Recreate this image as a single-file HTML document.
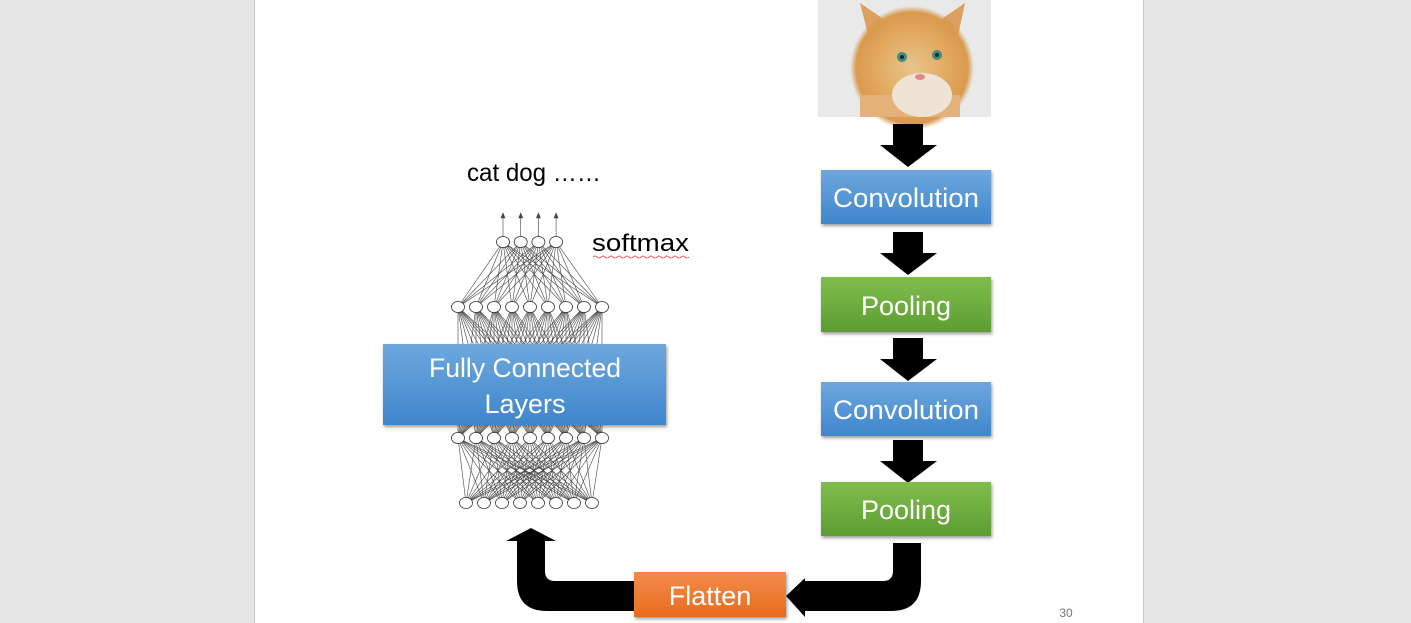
<!DOCTYPE html>
<html><head><meta charset="utf-8"><style>
html,body{margin:0;padding:0;width:1411px;height:623px;overflow:hidden;background:#e6e6e6;font-family:"Liberation Sans",sans-serif}
</style></head><body>
<svg id="s" width="1411" height="623" xmlns="http://www.w3.org/2000/svg" style="position:absolute;left:0;top:0">
<defs>
<linearGradient id="gb" x1="0" y1="0" x2="0" y2="1"><stop offset="0" stop-color="#6ea7dd"/><stop offset="1" stop-color="#3f86cc"/></linearGradient>
<linearGradient id="gg" x1="0" y1="0" x2="0" y2="1"><stop offset="0" stop-color="#80bd4c"/><stop offset="1" stop-color="#5c9d32"/></linearGradient>
<linearGradient id="go" x1="0" y1="0" x2="0" y2="1"><stop offset="0" stop-color="#f28c4c"/><stop offset="1" stop-color="#e86b1c"/></linearGradient>
<radialGradient id="cat" cx="0.5" cy="0.5" r="0.5"><stop offset="0" stop-color="#e8c48e"/><stop offset="0.6" stop-color="#e2a85e"/><stop offset="0.9" stop-color="#d9994e"/><stop offset="1" stop-color="#d9994e" stop-opacity="0"/></radialGradient>
<filter id="sh" x="-5%" y="-5%" width="112%" height="125%"><feDropShadow dx="1" dy="2" stdDeviation="1.5" flood-color="#000" flood-opacity="0.4"/></filter>
</defs>
<rect x="254" y="0" width="890" height="623" fill="#fff"/>
<line x1="254.5" y1="0" x2="254.5" y2="623" stroke="#c8c8c8"/>
<line x1="1143.5" y1="0" x2="1143.5" y2="623" stroke="#c8c8c8"/>
<!-- cat -->
<rect x="818" y="0" width="173" height="117" fill="#e9e9ea"/>
<polygon points="860,3 885,20 872,50" fill="#dca060"/>
<polygon points="965,3 940,20 955,50" fill="#dca060"/>
<ellipse cx="912" cy="68" rx="62" ry="62" fill="url(#cat)"/>
<rect x="860" y="95" width="100" height="22" fill="#e2b27a"/>
<ellipse cx="922" cy="95" rx="30" ry="22" fill="#efe3d6"/>
<circle cx="902" cy="57" r="5" fill="#3c8c84"/><circle cx="937" cy="55" r="5" fill="#3c8c84"/>
<circle cx="902" cy="57" r="2" fill="#222"/><circle cx="937" cy="55" r="2" fill="#222"/>
<ellipse cx="920" cy="77" rx="5" ry="3" fill="#e08a88"/>
<!-- down arrows -->
<g fill="#000">
<polygon points="893,124 923,124 923,145 937,145 908,167 880,145 893,145"/>
<polygon points="893,232 923,232 923,253 937,253 908,275 880,253 893,253"/>
<polygon points="893,338 923,338 923,359 937,359 908,381 880,359 893,359"/>
<polygon points="893,440 923,440 923,461 937,461 908,483 880,461 893,461"/>
<path d="M893,543 L921,543 L921,581 Q921,611 891,611 L805,611 L805,617 L786,596 L805,578 L805,581 L883,581 Q893,581 893,571 Z"/>
<path d="M634,581 L634,611 L547,611 Q517,611 517,581 L517,541 L506,541 L531,528 L556,541 L545,541 L545,571 Q545,581 555,581 Z"/>
</g>
<g filter="url(#sh)">
<rect x="821" y="170" width="170" height="54" fill="url(#gb)"/>
<rect x="821" y="277" width="170" height="55" fill="url(#gg)"/>
<rect x="821" y="382" width="170" height="54" fill="url(#gb)"/>
<rect x="821" y="482" width="170" height="54" fill="url(#gg)"/>
<rect x="634" y="572" width="152" height="45" fill="url(#go)"/>
</g>
<g font-family="Liberation Sans, sans-serif" font-size="27" fill="#fff" text-anchor="middle">
<text x="906" y="207" textLength="146" lengthAdjust="spacingAndGlyphs">Convolution</text>
<text x="906" y="315">Pooling</text>
<text x="906" y="419" textLength="146" lengthAdjust="spacingAndGlyphs">Convolution</text>
<text x="906" y="519">Pooling</text>
<text x="710" y="605">Flatten</text>
</g>
<g id="net" stroke="#444" stroke-width="0.6"></g>
<g filter="url(#sh)"><rect x="383" y="344" width="283" height="81" fill="url(#gb)"/></g>
<g font-family="Liberation Sans, sans-serif" font-size="27" fill="#fff" text-anchor="middle">
<text x="525" y="377" textLength="192" lengthAdjust="spacingAndGlyphs">Fully Connected</text>
<text x="525" y="413">Layers</text>
</g>
<text x="467" y="181" font-size="25" font-family="Liberation Sans, sans-serif" textLength="134" lengthAdjust="spacingAndGlyphs">cat dog ……</text>
<text x="592" y="251" font-size="24" font-family="Liberation Sans, sans-serif" textLength="97" lengthAdjust="spacingAndGlyphs">softmax</text>
<path d="M593,257 q2,-2 4,0 t4,0 t4,0 t4,0 t4,0 t4,0 t4,0 t4,0 t4,0 t4,0 t4,0 t4,0 t4,0 t4,0 t4,0 t4,0 t4,0 t4,0 t4,0 t4,0 t4,0 t4,0 t4,0 t4,0" fill="none" stroke="#d33" stroke-width="0.8"/>
<text x="1066" y="617" font-size="12" fill="#777" text-anchor="middle" font-family="Liberation Sans, sans-serif">30</text>
</svg>
<script>
var net=document.getElementById('net');
function L(n,x0,dx,y){var a=[];for(var i=0;i<n;i++)a.push([x0+i*dx,y]);return a;}
var l1=L(4,503,17.7,242),l2=L(9,458,18,307),l3=L(9,458,18,438),l4=L(8,466,18,503);
var s='';
function conn(a,b){a.forEach(function(p){b.forEach(function(q){s+='<line x1="'+p[0]+'" y1="'+p[1]+'" x2="'+q[0]+'" y2="'+q[1]+'"/>';});});}
conn(l1,l2);conn(l2,l3);conn(l3,l4);
l1.forEach(function(p){s+='<line x1="'+p[0]+'" y1="'+p[1]+'" x2="'+p[0]+'" y2="215"/><polygon points="'+(p[0]-2)+',218 '+(p[0]+2)+',218 '+p[0]+',213" fill="#444"/>';});
[l1,l2,l3,l4].forEach(function(l){l.forEach(function(p){s+='<ellipse cx="'+p[0]+'" cy="'+p[1]+'" rx="6.5" ry="5.5" fill="#fff" stroke="#333" stroke-width="0.8"/>';});});
net.innerHTML=s;
</script>
</body></html>
